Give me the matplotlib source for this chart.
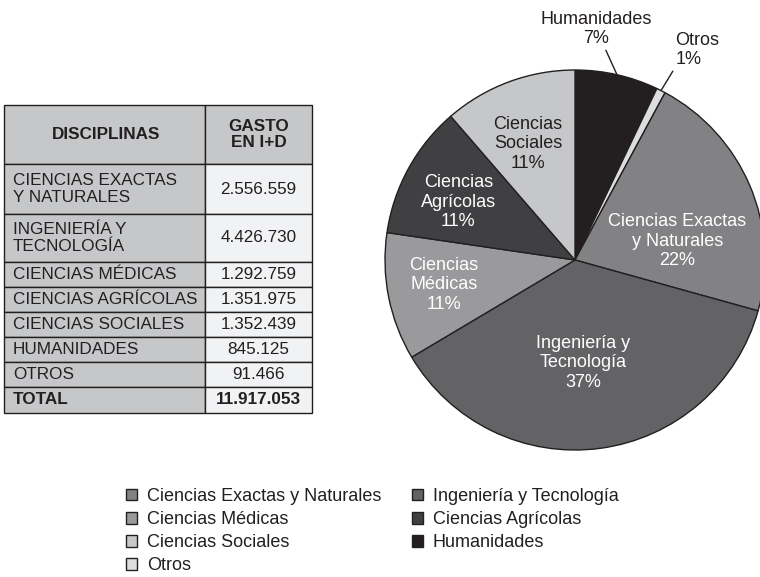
import numpy as np
import matplotlib.pyplot as plt
from matplotlib.patches import Rectangle

plt.rcParams['font.family'] = ['Liberation Sans', 'DejaVu Sans']

# table data
table_rows = ['CIENCIAS EXACTAS\nY NATURALES', 'INGENIERÍA Y\nTECNOLOGÍA', 'CIENCIAS MÉDICAS',
              'CIENCIAS AGRÍCOLAS', 'CIENCIAS SOCIALES', 'HUMANIDADES', 'OTROS']
table_values = ['2.556.559', '4.426.730', '1.292.759', '1.351.975', '1.352.439', '845.125', '91.466']
table_total = '11.917.053'

# pie data (clockwise from 12 o'clock)
pie_names = ['Humanidades', 'Otros', 'Ciencias Exactas y Naturales', 'Ingeniería y Tecnología',
             'Ciencias Médicas', 'Ciencias Agrícolas', 'Ciencias Sociales']
pie_labels = ['Humanidades', 'Otros', 'Ciencias Exactas\ny Naturales', 'Ingeniería y\nTecnología',
              'Ciencias\nMédicas', 'Ciencias\nAgrícolas', 'Ciencias\nSociales']
pie_values = [845125, 91466, 2556559, 4426730, 1292759, 1351975, 1352439]
pie_pct = [7, 1, 22, 37, 11, 11, 11]

colors = ['#231f20', '#dcdddf', '#828285', '#636366', '#9a9a9d', '#404043', '#c6c7c9']
text_colors = ['#231f20', '#231f20', 'white', 'white', 'white', 'white', '#231f20']
label_r = [1.22, 1.225, 0.55, 0.53, 0.70, 0.69, 0.67]
label_shift = [7.5, 1.3, -11.5, -3, -1.5, 1.5, 1.2]  # degrees
label_ha = ['center', 'left', 'center', 'center', 'center', 'center', 'center']
line_relpos = [(0.5, 0.5), (0.0, 0.05)]

W, H = 760, 577
fig = plt.figure(figsize=(W / 100, H / 100), dpi=100)

# --- table, drawn in pixel coordinates ---
tax = fig.add_axes([0, 0, 1, 1])
tax.set_xlim(0, W)
tax.set_ylim(H, 0)
tax.axis('off')

x0, xmid, x1 = 4, 205, 312
heights = [59, 50, 48, 25, 25, 25, 25, 25, 26]
edges = np.concatenate([[105], 105 + np.cumsum(heights)])
dark = '#231f20'
gray = '#c6c7c9'
light = '#f1f2f3'
fs = 12.3

for i in range(len(heights)):
    top, bot = edges[i], edges[i + 1]
    right_fc = gray if i == 0 else light
    tax.add_patch(Rectangle((x0, top), xmid - x0, bot - top, fc=gray, ec=dark, lw=1))
    tax.add_patch(Rectangle((xmid, top), x1 - xmid, bot - top, fc=right_fc, ec=dark, lw=1))

yc = (edges[:-1] + edges[1:]) / 2
tax.text((x0 + xmid) / 2 + 2, yc[0], 'DISCIPLINAS', ha='center', va='center',
         fontsize=fs, fontweight='bold', color=dark)
tax.text((xmid + x1) / 2, yc[0], 'GASTO\nEN I+D', ha='center', va='center',
         fontsize=fs, fontweight='bold', color=dark, linespacing=1.1)
for i, (name, val) in enumerate(zip(table_rows, table_values)):
    tax.text(x0 + 9, yc[i + 1], name, ha='left', va='center', fontsize=fs,
             color=dark, linespacing=1.1)
    tax.text((xmid + x1) / 2, yc[i + 1], val, ha='center', va='center', fontsize=fs, color=dark)
tax.text(x0 + 9, yc[-1], 'TOTAL', ha='left', va='center', fontsize=fs,
         fontweight='bold', color=dark)
tax.text((xmid + x1) / 2, yc[-1], table_total, ha='center', va='center', fontsize=fs,
         fontweight='bold', color=dark)

# --- pie ---
cx, cy, r = 575, 260, 190
pax = fig.add_axes([(cx - r) / W, (H - cy - r) / H, 2 * r / W, 2 * r / H])
wedges, _ = pax.pie(pie_values, colors=colors, startangle=90, counterclock=False,
                    wedgeprops=dict(edgecolor=dark, linewidth=1))
pax.set_xlim(-1, 1)
pax.set_ylim(-1, 1)
pax.set_aspect('equal')

for i, w in enumerate(wedges):
    mid = (w.theta1 + w.theta2) / 2
    ang = np.deg2rad(mid + label_shift[i])
    tx, ty = label_r[i] * np.cos(ang), label_r[i] * np.sin(ang)
    txt = f'{pie_labels[i]}\n{pie_pct[i]}%'
    if label_r[i] > 1:
        ex, ey = np.cos(np.deg2rad(mid)), np.sin(np.deg2rad(mid))
        pax.annotate(txt, xy=(ex, ey), xytext=(tx, ty), ha=label_ha[i], va='center',
                     multialignment=label_ha[i], fontsize=13, color=text_colors[i],
                     annotation_clip=False,
                     arrowprops=dict(arrowstyle='-', color=dark, lw=1, shrinkA=0, shrinkB=0,
                                     relpos=line_relpos[i]))
    else:
        pax.text(tx, ty - 0.012, txt, ha='center', va='center', fontsize=13, color=text_colors[i])

# --- legend (row-wise order laid out in 2 columns) ---
order = [2, 4, 6, 1, 3, 5, 0]
fig.legend([wedges[k] for k in order], [pie_names[k] for k in order], ncol=2,
           loc='upper left', bbox_to_anchor=(126 / W, 1 - 488 / H), frameon=False,
           fontsize=13, handlelength=0.6, handleheight=0.6, handletextpad=0.55,
           labelspacing=0.34, columnspacing=1.72, borderpad=0, borderaxespad=0,
           labelcolor=dark)

fig.savefig('out.png', dpi=100)
